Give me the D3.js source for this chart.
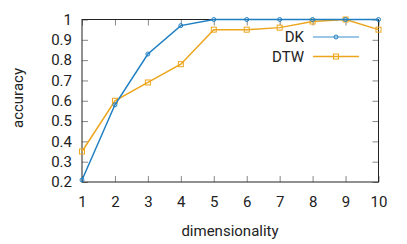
<!DOCTYPE html>
<html>
<head>
<meta charset="utf-8">
<style>
  body { margin: 0; background: #fff; }
  svg text { font-family: Roboto, "Noto Sans", sans-serif; fill: #222; }
</style>
</head>
<body>
<div id="chart"></div>
<script src="https://cdnjs.cloudflare.com/ajax/libs/d3/7.8.5/d3.min.js"></script>
<script>
  // values
  const dims = [1, 2, 3, 4, 5, 6, 7, 8, 9, 10];
  const dk = [0.21, 0.58, 0.83, 0.97, 1.0, 1.0, 1.0, 1.0, 1.0, 1.0];
  const dtw = [0.35, 0.60, 0.69, 0.78, 0.95, 0.95, 0.96, 0.99, 1.0, 0.95];
  const yTicks = [0.2, 0.3, 0.4, 0.5, 0.6, 0.7, 0.8, 0.9, 1];

  const width = 407, height = 244;
  const mLeft = 82, mRight = 378.5, mTop = 19.5, mBottom = 182;
  const blue = "#1f7fc2", orange = "#eca51c";

  const svg = d3.select("#chart").append("svg")
    .attr("width", width).attr("height", height);

  const x = d3.scaleLinear().domain([1, 10]).range([mLeft, mRight]);
  const y = d3.scaleLinear().domain([0.2, 1]).range([mBottom, mTop]);

  const tickLen = 6;
  const tickColor = "#888";

  // x ticks, bottom and top, pointing inward
  const xb = svg.append("g").attr("transform", `translate(0,${mBottom})`)
    .call(d3.axisBottom(x).tickValues(dims).tickFormat(d3.format("d"))
      .tickSizeInner(-tickLen).tickSizeOuter(0).tickPadding(14));
  xb.select(".domain").remove();
  xb.selectAll("line").attr("stroke", tickColor);
  xb.selectAll("text").style("font-size", "15px");

  const xt = svg.append("g").attr("transform", `translate(0,${mTop})`)
    .call(d3.axisTop(x).tickValues(dims).tickFormat("").tickSizeInner(-tickLen).tickSizeOuter(0));
  xt.select(".domain").remove();
  xt.selectAll("line").attr("stroke", tickColor);

  // y ticks, left and right
  const yl = svg.append("g").attr("transform", `translate(${mLeft},0)`)
    .call(d3.axisLeft(y).tickValues(yTicks).tickFormat(d => d === 1 ? "1" : d3.format(".1f")(d))
      .tickSizeInner(-tickLen).tickSizeOuter(0).tickPadding(10));
  yl.select(".domain").remove();
  yl.selectAll("line").attr("stroke", tickColor);
  yl.selectAll("text").style("font-size", "15px");

  const yr = svg.append("g").attr("transform", `translate(${mRight},0)`)
    .call(d3.axisRight(y).tickValues(yTicks).tickFormat("").tickSizeInner(-tickLen).tickSizeOuter(0));
  yr.select(".domain").remove();
  yr.selectAll("line").attr("stroke", tickColor);

  // frame
  svg.append("rect")
    .attr("x", mLeft).attr("y", mTop)
    .attr("width", mRight - mLeft).attr("height", mBottom - mTop)
    .attr("fill", "none").attr("stroke", "#222").attr("stroke-width", 1);

  const line = d3.line().x((d, i) => x(dims[i])).y(d => y(d));

  // DTW series
  svg.append("path").datum(dtw).attr("d", line)
    .attr("fill", "none").attr("stroke", orange).attr("stroke-width", 1.5);
  svg.selectAll(".sq").data(dtw).join("rect").attr("class", "sq")
    .attr("x", (d, i) => x(dims[i]) - 2.5).attr("y", d => y(d) - 2.5)
    .attr("width", 5).attr("height", 5)
    .attr("fill", "none").attr("stroke", orange).attr("stroke-width", 1);

  // DK series
  svg.append("path").datum(dk).attr("d", line)
    .attr("fill", "none").attr("stroke", blue).attr("stroke-width", 1.5);
  svg.selectAll(".ci").data(dk).join("circle").attr("class", "ci")
    .attr("cx", (d, i) => x(dims[i])).attr("cy", d => y(d)).attr("r", 2)
    .attr("fill", "none").attr("stroke", blue).attr("stroke-width", 1);

  // legend
  const legend = [
    { name: "DK", color: blue, lineColor: "#9cc8e8", marker: "circle", yy: 37 },
    { name: "DTW", color: orange, lineColor: orange, marker: "square", yy: 56.5 }
  ];
  legend.forEach(l => {
    svg.append("text").attr("x", 304).attr("y", l.yy).attr("dy", "0.36em")
      .attr("text-anchor", "end").style("font-size", "15px").text(l.name);
    svg.append("line").attr("x1", 313).attr("x2", 359).attr("y1", l.yy).attr("y2", l.yy)
      .attr("stroke", l.lineColor).attr("stroke-width", l.marker === "circle" ? 2 : 1.5);
    if (l.marker === "circle") {
      svg.append("circle").attr("cx", 336).attr("cy", l.yy).attr("r", 2)
        .attr("fill", "none").attr("stroke", l.color);
    } else {
      svg.append("rect").attr("x", 333.5).attr("y", l.yy - 2.5).attr("width", 5).attr("height", 5)
        .attr("fill", "none").attr("stroke", l.color);
    }
  });

  // axis titles
  svg.append("text").attr("x", 230).attr("y", 236).attr("text-anchor", "middle")
    .style("font-size", "15px").text("dimensionality");
  svg.append("text").attr("transform", "translate(23,98) rotate(-90)")
    .attr("text-anchor", "middle").style("font-size", "15px").text("accuracy");
</script>
</body>
</html>
